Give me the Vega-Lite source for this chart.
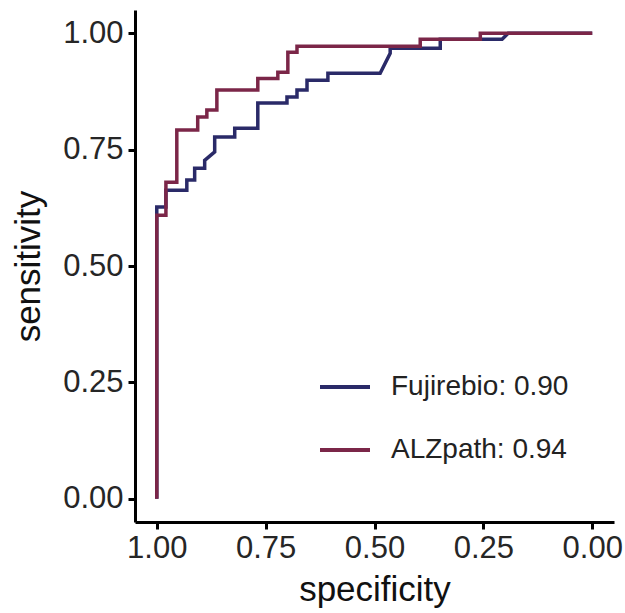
{
  "$schema": "https://vega.github.io/schema/vega-lite/v6.json",
  "autosize": {"type": "none"},
  "padding": {"left": 135, "top": 10, "right": 11, "bottom": 91},
  "width": 479,
  "height": 512,
  "background": "white",
  "config": {
    "view": {"stroke": null},
    "font": "Liberation Sans",
    "axis": {
      "grid": false,
      "domainColor": "black",
      "domainWidth": 3,
      "tickColor": "black",
      "tickWidth": 3,
      "tickSize": 7,
      "labelFont": "Liberation Sans",
      "labelFontSize": 31,
      "labelColor": "#262626",
      "titleFont": "Liberation Sans",
      "titleFontSize": 35,
      "titleFontWeight": "normal",
      "titleColor": "#111111"
    }
  },
  "datasets": {
    "fujirebio": [
      {"i": 0, "test": "Fujirebio: 0.90", "specificity": 1.0, "sensitivity": 0.0},
      {"i": 1, "test": "Fujirebio: 0.90", "specificity": 1.0, "sensitivity": 0.627},
      {"i": 2, "test": "Fujirebio: 0.90", "specificity": 0.979, "sensitivity": 0.627},
      {"i": 3, "test": "Fujirebio: 0.90", "specificity": 0.979, "sensitivity": 0.663},
      {"i": 4, "test": "Fujirebio: 0.90", "specificity": 0.931, "sensitivity": 0.663},
      {"i": 5, "test": "Fujirebio: 0.90", "specificity": 0.931, "sensitivity": 0.685},
      {"i": 6, "test": "Fujirebio: 0.90", "specificity": 0.913, "sensitivity": 0.685},
      {"i": 7, "test": "Fujirebio: 0.90", "specificity": 0.913, "sensitivity": 0.710},
      {"i": 8, "test": "Fujirebio: 0.90", "specificity": 0.890, "sensitivity": 0.710},
      {"i": 9, "test": "Fujirebio: 0.90", "specificity": 0.890, "sensitivity": 0.727},
      {"i": 10, "test": "Fujirebio: 0.90", "specificity": 0.867, "sensitivity": 0.745},
      {"i": 11, "test": "Fujirebio: 0.90", "specificity": 0.867, "sensitivity": 0.777},
      {"i": 12, "test": "Fujirebio: 0.90", "specificity": 0.821, "sensitivity": 0.777},
      {"i": 13, "test": "Fujirebio: 0.90", "specificity": 0.821, "sensitivity": 0.796},
      {"i": 14, "test": "Fujirebio: 0.90", "specificity": 0.768, "sensitivity": 0.796},
      {"i": 15, "test": "Fujirebio: 0.90", "specificity": 0.768, "sensitivity": 0.850},
      {"i": 16, "test": "Fujirebio: 0.90", "specificity": 0.701, "sensitivity": 0.850},
      {"i": 17, "test": "Fujirebio: 0.90", "specificity": 0.701, "sensitivity": 0.863},
      {"i": 18, "test": "Fujirebio: 0.90", "specificity": 0.678, "sensitivity": 0.863},
      {"i": 19, "test": "Fujirebio: 0.90", "specificity": 0.678, "sensitivity": 0.878},
      {"i": 20, "test": "Fujirebio: 0.90", "specificity": 0.655, "sensitivity": 0.878},
      {"i": 21, "test": "Fujirebio: 0.90", "specificity": 0.655, "sensitivity": 0.899},
      {"i": 22, "test": "Fujirebio: 0.90", "specificity": 0.607, "sensitivity": 0.899},
      {"i": 23, "test": "Fujirebio: 0.90", "specificity": 0.607, "sensitivity": 0.914},
      {"i": 24, "test": "Fujirebio: 0.90", "specificity": 0.487, "sensitivity": 0.914},
      {"i": 25, "test": "Fujirebio: 0.90", "specificity": 0.464, "sensitivity": 0.957},
      {"i": 26, "test": "Fujirebio: 0.90", "specificity": 0.464, "sensitivity": 0.968},
      {"i": 27, "test": "Fujirebio: 0.90", "specificity": 0.349, "sensitivity": 0.968},
      {"i": 28, "test": "Fujirebio: 0.90", "specificity": 0.349, "sensitivity": 0.987},
      {"i": 29, "test": "Fujirebio: 0.90", "specificity": 0.207, "sensitivity": 0.987},
      {"i": 30, "test": "Fujirebio: 0.90", "specificity": 0.193, "sensitivity": 1.0},
      {"i": 31, "test": "Fujirebio: 0.90", "specificity": 0.0, "sensitivity": 1.0}
    ],
    "alzpath": [
      {"i": 0, "test": "ALZpath: 0.94", "specificity": 1.0, "sensitivity": 0.0},
      {"i": 1, "test": "ALZpath: 0.94", "specificity": 1.0, "sensitivity": 0.609},
      {"i": 2, "test": "ALZpath: 0.94", "specificity": 0.979, "sensitivity": 0.609},
      {"i": 3, "test": "ALZpath: 0.94", "specificity": 0.979, "sensitivity": 0.680},
      {"i": 4, "test": "ALZpath: 0.94", "specificity": 0.954, "sensitivity": 0.680},
      {"i": 5, "test": "ALZpath: 0.94", "specificity": 0.954, "sensitivity": 0.792},
      {"i": 6, "test": "ALZpath: 0.94", "specificity": 0.906, "sensitivity": 0.792},
      {"i": 7, "test": "ALZpath: 0.94", "specificity": 0.906, "sensitivity": 0.820},
      {"i": 8, "test": "ALZpath: 0.94", "specificity": 0.885, "sensitivity": 0.820},
      {"i": 9, "test": "ALZpath: 0.94", "specificity": 0.885, "sensitivity": 0.835},
      {"i": 10, "test": "ALZpath: 0.94", "specificity": 0.862, "sensitivity": 0.835},
      {"i": 11, "test": "ALZpath: 0.94", "specificity": 0.862, "sensitivity": 0.878},
      {"i": 12, "test": "ALZpath: 0.94", "specificity": 0.768, "sensitivity": 0.878},
      {"i": 13, "test": "ALZpath: 0.94", "specificity": 0.768, "sensitivity": 0.903},
      {"i": 14, "test": "ALZpath: 0.94", "specificity": 0.722, "sensitivity": 0.903},
      {"i": 15, "test": "ALZpath: 0.94", "specificity": 0.722, "sensitivity": 0.916},
      {"i": 16, "test": "ALZpath: 0.94", "specificity": 0.699, "sensitivity": 0.916},
      {"i": 17, "test": "ALZpath: 0.94", "specificity": 0.699, "sensitivity": 0.959},
      {"i": 18, "test": "ALZpath: 0.94", "specificity": 0.678, "sensitivity": 0.959},
      {"i": 19, "test": "ALZpath: 0.94", "specificity": 0.678, "sensitivity": 0.972},
      {"i": 20, "test": "ALZpath: 0.94", "specificity": 0.395, "sensitivity": 0.972},
      {"i": 21, "test": "ALZpath: 0.94", "specificity": 0.395, "sensitivity": 0.987},
      {"i": 22, "test": "ALZpath: 0.94", "specificity": 0.257, "sensitivity": 0.987},
      {"i": 23, "test": "ALZpath: 0.94", "specificity": 0.257, "sensitivity": 1.0},
      {"i": 24, "test": "ALZpath: 0.94", "specificity": 0.0, "sensitivity": 1.0}
    ]
  },
  "encoding": {
    "x": {
      "field": "specificity",
      "type": "quantitative",
      "scale": {"domain": [-0.05, 1.05], "reverse": true, "nice": false, "zero": false},
      "axis": {"values": [0, 0.25, 0.5, 0.75, 1], "format": ".2f", "labelPadding": 4, "titlePadding": 9, "title": "specificity"}
    },
    "y": {
      "field": "sensitivity",
      "type": "quantitative",
      "scale": {"domain": [-0.05, 1.05], "nice": false, "zero": false},
      "axis": {"values": [0, 0.25, 0.5, 0.75, 1], "format": ".2f", "labelPadding": 5, "titlePadding": 16, "title": "sensitivity"}
    },
    "order": {"field": "i", "type": "quantitative"},
    "color": {
      "field": "test",
      "type": "nominal",
      "scale": {"domain": ["Fujirebio: 0.90", "ALZpath: 0.94"], "range": ["#2a2a68", "#7b2648"]},
      "legend": {
        "title": null,
        "orient": "none",
        "legendX": 183,
        "legendY": 350,
        "symbolType": "stroke",
        "symbolSize": 2500,
        "symbolStrokeWidth": 4,
        "labelFont": "Liberation Sans",
        "labelFontSize": 28,
        "labelColor": "#222222",
        "labelOffset": 19,
        "labelLimit": 400,
        "rowPadding": 22
      }
    }
  },
  "layer": [
    {"data": {"name": "fujirebio"}, "mark": {"type": "line", "strokeWidth": 3.5, "interpolate": "linear"}},
    {"data": {"name": "alzpath"}, "mark": {"type": "line", "strokeWidth": 3.5, "interpolate": "linear"}}
  ]
}
